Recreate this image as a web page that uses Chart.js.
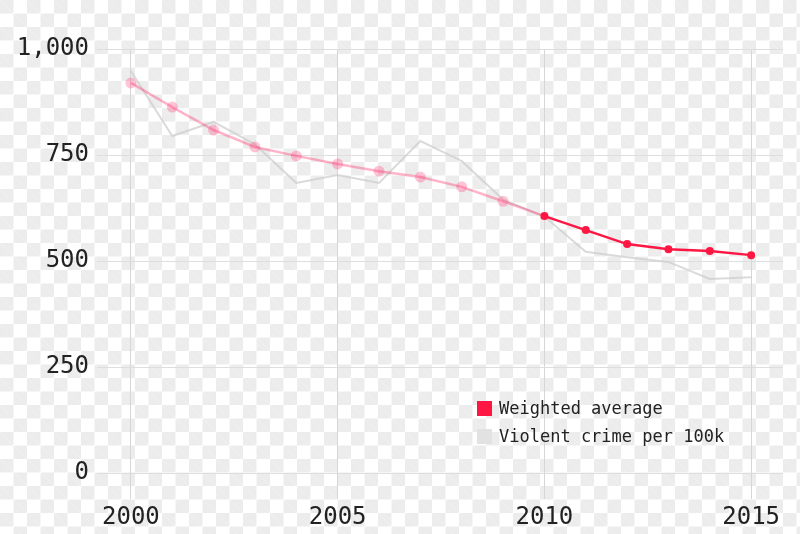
<!DOCTYPE html>
<html>
<head>
<meta charset="utf-8">
<script src="https://cdn.jsdelivr.net/npm/chart.js@4/dist/chart.umd.min.js"></script>
<style>
  html, body { margin: 0; padding: 0; }
  body {
    width: 800px; height: 534px; overflow: hidden; position: relative;
    background-color: #fff;
    background-image:
      linear-gradient(45deg, #ececec 25%, transparent 25%, transparent 75%, #ececec 75%),
      linear-gradient(45deg, #ececec 25%, transparent 25%, transparent 75%, #ececec 75%);
    background-size: 27px 27px;
    background-position: 0 13.5px, 13.5px 0;
  }
  #wrap { position: absolute; left: 0; top: 0; width: 800px; height: 534px; }
  .legend { position: absolute; left: 477px; top: 398px; font-family: "DejaVu Sans Mono", monospace; font-size: 17px; color: #222; }
  .legend div { height: 28px; line-height: 20px; display: flex; align-items: flex-start; }
  .legend span.box { width: 15px; height: 15px; margin-top: 3px; margin-right: 7px; display: inline-block; }
</style>
</head>
<body>
<div id="wrap"><canvas id="c" width="800" height="534"></canvas></div>
<div class="legend">
  <div><span class="box" style="background:#ff1744"></span>Weighted average</div>
  <div><span class="box" style="background:#e2e2e2"></span>Violent crime per 100k</div>
</div>
<script>
// 연도 / 값
const years = [2000, 2001, 2002, 2003, 2004, 2005, 2006, 2007, 2008, 2009, 2010, 2011, 2012, 2013, 2014, 2015];
const weightedAvg = [920, 863, 809, 769, 748, 729, 712, 698, 675, 641, 606, 573, 540, 528, 524, 514];
const violentCrime = [948, 795, 828, 775, 684, 703, 684, 783, 736, 645, 605, 522, 509, 498, 458, 462];
const xTicks = [2000, 2005, 2010, 2015];
const yTicks = [0, 250, 500, 750, 1000];
const solidFrom = 10; // 2010 부터 진한 빨강

const RED = '#ff1744';
const PINK_LINE = 'rgba(255, 40, 100, 0.35)';
const PINK_PT = 'rgba(255, 60, 120, 0.3)';
const MONO = '"DejaVu Sans Mono", "Liberation Mono", monospace';

new Chart(document.getElementById('c'), {
    type: 'line',
    data: {
        datasets: [{
            label: 'Weighted average',
            data: years.map((t, i) => ({ x: t, y: weightedAvg[i] })),
            order: 1,
            borderWidth: 2.5,
            tension: 0,
            segment: { borderColor: c => (c.p0DataIndex >= solidFrom ? RED : PINK_LINE) },
            pointRadius: c => (c.dataIndex >= solidFrom ? 4 : 5.5),
            pointBorderWidth: 0,
            pointBackgroundColor: c => (c.dataIndex >= solidFrom ? RED : PINK_PT),
        }, {
            label: 'Violent crime per 100k',
            data: years.map((t, i) => ({ x: t, y: violentCrime[i] })),
            order: 2,
            borderColor: 'rgba(205, 205, 205, 0.75)',
            borderWidth: 2,
            tension: 0,
            pointRadius: 0,
        }]
    },
    options: {
        responsive: false,
        animation: false,
        layout: { padding: { top: 49, right: 17, left: 0, bottom: 0 } },
        plugins: { legend: { display: false }, tooltip: { enabled: false } },
        scales: {
            x: {
                type: 'linear',
                min: 1999.18, max: 2015.77,
                afterBuildTicks: s => { s.ticks = xTicks.map(v => ({ value: v })); },
                afterFit: s => { s.height = 35; },
                grid: { color: '#d6d6d6', lineWidth: 1, drawTicks: false },
                border: { display: false },
                ticks: { color: '#222', font: { family: MONO, size: 24 }, padding: 4, callback: v => String(v), maxRotation: 0 }
            },
            y: {
                min: -61, max: 1000,
                afterBuildTicks: s => { s.ticks = yTicks.map(v => ({ value: v })); },
                afterFit: s => { s.width = 97; },
                grid: { color: '#dedede', lineWidth: 1, drawTicks: false },
                border: { display: false },
                ticks: { color: '#222', font: { family: MONO, size: 24 }, padding: 8, callback: v => v.toLocaleString('en-US') }
            }
        }
    }
});
</script>
</body>
</html>
